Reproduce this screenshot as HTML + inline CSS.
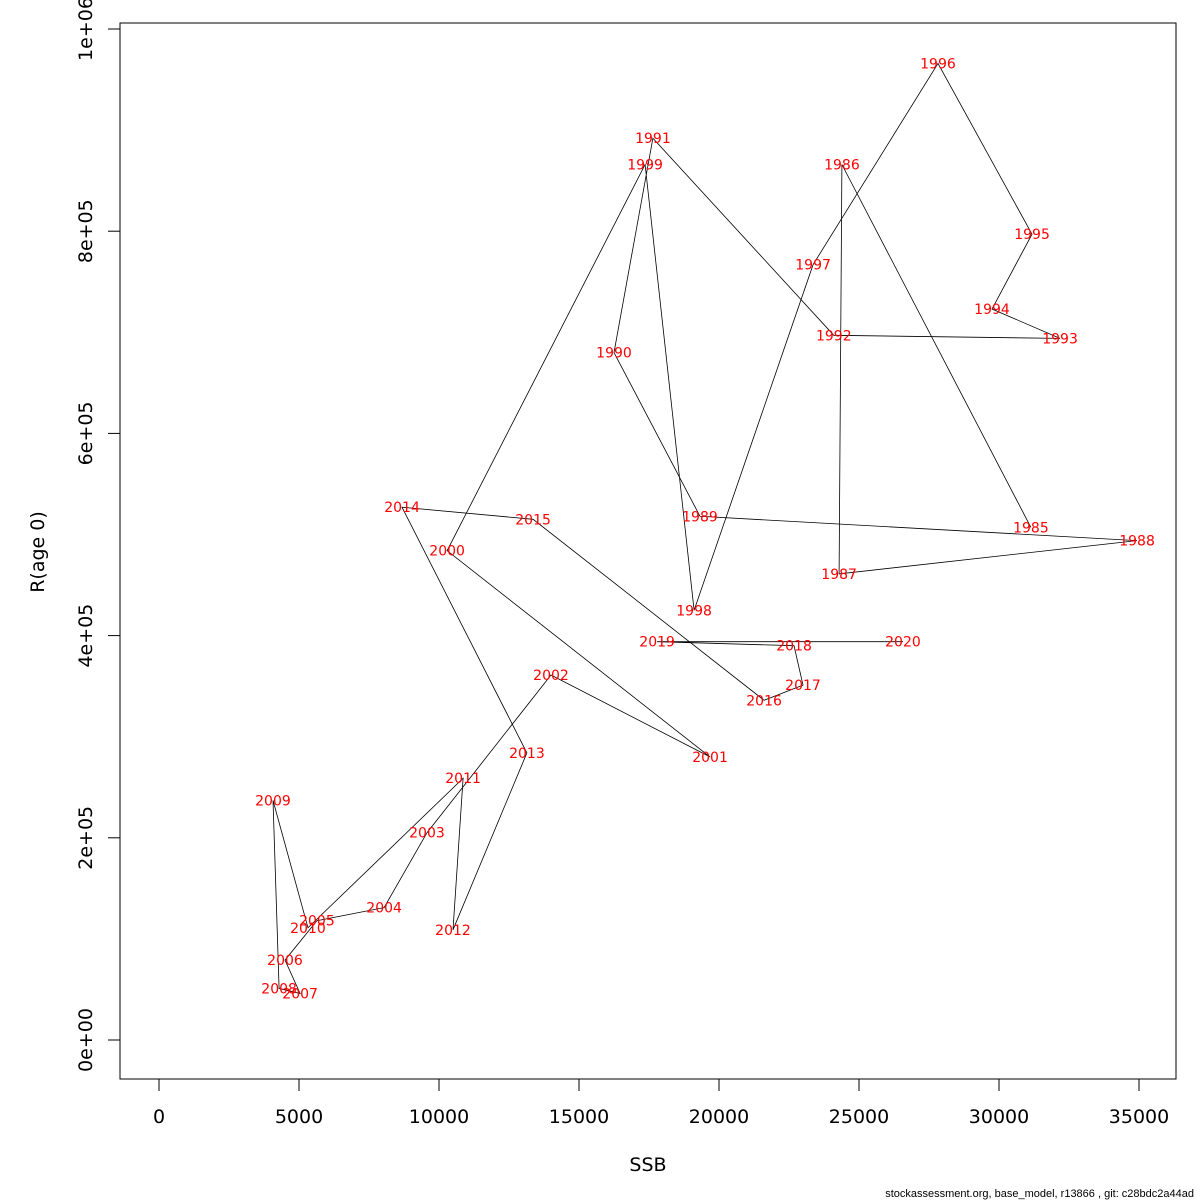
<!DOCTYPE html>
<html><head><meta charset="utf-8"><style>
html,body{margin:0;padding:0;background:#fff;}
svg{display:block;font-family:"DejaVu Sans","Liberation Sans",sans-serif;}
</style></head><body>
<svg id="chart" width="1200" height="1200" viewBox="0 0 1200 1200">
<rect x="120" y="23" width="1056" height="1056" fill="none" stroke="#000" stroke-width="1"/>
<g id="xaxis"></g>
<g id="yaxis"></g>
<g id="series"></g>
<g id="labels"></g>
<text x="648" y="1171" font-size="19" text-anchor="middle">SSB</text>
<text transform="translate(44,552) rotate(-90)" font-size="19" text-anchor="middle">R(age 0)</text>
<text x="1194" y="1197" font-size="11" font-family="Liberation Sans, sans-serif" text-anchor="end">stockassessment.org, base_model, r13866 , git: c28bdc2a44ad</text>
</svg>
<script>
const years=[1985,1986,1987,1988,1989,1990,1991,1992,1993,1994,1995,1996,1997,1998,1999,2000,2001,2002,2003,2004,2005,2006,2007,2008,2009,2010,2011,2012,2013,2014,2015,2016,2017,2018,2019,2020];
const ssb=[31140,24390,24290,34930,19320,16250,17640,24100,32180,29750,31180,27820,23360,19110,17360,10290,19680,14000,9570,8040,5640,4500,5040,4290,4070,5320,10860,10500,13140,8680,13360,21610,23000,22680,17790,26570];
const rec=[507000,866000,461000,494000,518000,680000,892000,697000,694000,723000,797000,966000,767000,425000,866000,484000,280000,361000,205000,131000,118000,79000,46000,51000,237000,111000,259000,109000,284000,527000,515000,336000,351000,390000,394000,394000];
const xTicks=[0,5000,10000,15000,20000,25000,30000,35000];
const yTicks=[0,200000,400000,600000,800000,1000000];
const yTickLabels=["0e+00","2e+05","4e+05","6e+05","8e+05","1e+06"];
const NS="http://www.w3.org/2000/svg";
function sx(v){return 159+v*0.028;}
function sy(v){return 1040-v*0.001011;}
function mk(tag,attrs,parent){const e=document.createElementNS(NS,tag);for(const k in attrs)e.setAttribute(k,attrs[k]);parent.appendChild(e);return e;}
const xa=document.getElementById('xaxis'),ya=document.getElementById('yaxis'),ser=document.getElementById('series'),lab=document.getElementById('labels');
mk('line',{x1:sx(xTicks[0]),x2:sx(xTicks[xTicks.length-1]),y1:1079,y2:1079,stroke:'#000'},xa);
xTicks.forEach(t=>{
  const l=mk('line',{x1:sx(t),x2:sx(t),y1:1079,y2:1091,stroke:'#000'},xa);
  
  
  const tx=mk('text',{x:sx(t),y:1123,'font-size':19,'text-anchor':'middle'},xa);
  tx.textContent=t;
  
  
});
mk('line',{x1:120,x2:120,y1:sy(yTicks[0]),y2:sy(yTicks[yTicks.length-1]),stroke:'#000'},ya);
yTicks.forEach((t,i)=>{
  const l=mk('line',{x1:108,x2:120,y1:sy(t),y2:sy(t),stroke:'#000'},ya);
  
  
  const tx=mk('text',{transform:`translate(92,${sy(t)}) rotate(-90)`,'font-size':19,'text-anchor':'middle'},ya);
  tx.textContent=yTickLabels[i];
  
  
});
const pts=years.map((y,i)=>sx(ssb[i]).toFixed(1)+','+sy(rec[i]).toFixed(1)).join(' ');
const pl=mk('polyline',{points:pts,fill:'none',stroke:'#000','stroke-width':0.8},ser);


years.forEach((y,i)=>{
  const t=mk('text',{x:sx(ssb[i]),y:sy(rec[i])+5,'font-size':14,fill:'#ff0000','text-anchor':'middle'},lab);
  t.textContent=y;
  
  
});
</script>
</body></html>
